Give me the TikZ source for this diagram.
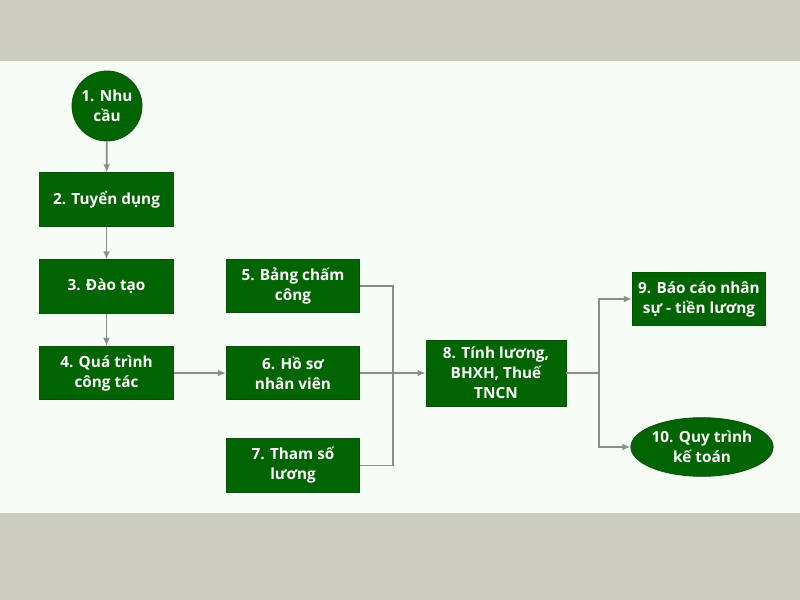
\documentclass[tikz,border=0pt]{standalone}
\usepackage{fontspec}
\setmainfont{Open Sans}
\usetikzlibrary{arrows.meta,shapes.geometric}
\definecolor{band}{HTML}{CCCCC0}
\definecolor{paper}{HTML}{F4FCF4}
\definecolor{boxgreen}{HTML}{006400}
\definecolor{boxedge}{HTML}{0A4F0A}
\definecolor{linkgray}{HTML}{8C8C8C}
\tikzset{
  every node/.style={font=\bfseries\fontsize{11.5}{15}\selectfont, text=white, align=center},
  stepbox/.style={rectangle, fill=boxgreen, draw=boxedge, line width=0.6pt, minimum width=100pt, minimum height=40pt, inner sep=2pt},
  stepcircle/.style={circle, fill=boxgreen, draw=boxedge, line width=0.6pt, minimum size=52.5pt, inner sep=0pt},
  stepellipse/.style={ellipse, fill=boxgreen, draw=boxedge, line width=0.6pt, minimum width=106pt, minimum height=44pt, inner sep=0pt},
  link/.style={draw=linkgray, line width=1.3pt},
  arrowlink/.style={link, -{Latex[length=6pt,width=5pt]}}
}
\begin{document}
\begin{tikzpicture}[x=0.75pt,y=-0.75pt]
\useasboundingbox (0,0) rectangle (800,600);
\fill[band] (0,0) rectangle (800,600);
\fill[paper] (0,61) rectangle (800,513);

\node[stepcircle] (n1) at (107,106) {1. Nhu\\cầu};
\node[stepbox] (n2) at (106.5,199.5) {2. Tuyển dụng};
\node[stepbox] (n3) at (106.5,286.5) {3. Đào tạo};
\node[stepbox] (n4) at (106.5,373) {4. Quá trình\\công tác};
\node[stepbox] (n5) at (293,286) {5. Bảng chấm\\công};
\node[stepbox] (n6) at (293,373) {6. Hồ sơ\\nhân viên};
\node[stepbox] (n7) at (293,465.5) {7. Tham số\\lương};
\node[stepbox, minimum width=105pt, minimum height=49.5pt] (n8) at (496,373) {8. Tính lương,\\BHXH, Thuế\\TNCN};
\node[stepbox] (n9) at (699,299) {9. Báo cáo nhân\\sự - tiền lương};
\node[stepellipse] (n10) at (702,447) {10. Quy trình\\kế toán};

\coordinate (j1) at (393,373);
\coordinate (j2) at (599,373);

\draw[arrowlink] (n1) -- (n2);
\draw[arrowlink] (n2) -- (n3);
\draw[arrowlink] (n3) -- (n4);
\draw[arrowlink] (n4) -- (n6);
\draw[link] (n5.east) -| (j1);
\draw[link] (n7.east) -| (j1);
\draw[arrowlink] (n6) -- (n8);
\draw[link] (n8) -- (j2);
\draw[arrowlink] (j2) |- (n9.west);
\draw[arrowlink] (j2) |- (n10.west);
\end{tikzpicture}
\end{document}
